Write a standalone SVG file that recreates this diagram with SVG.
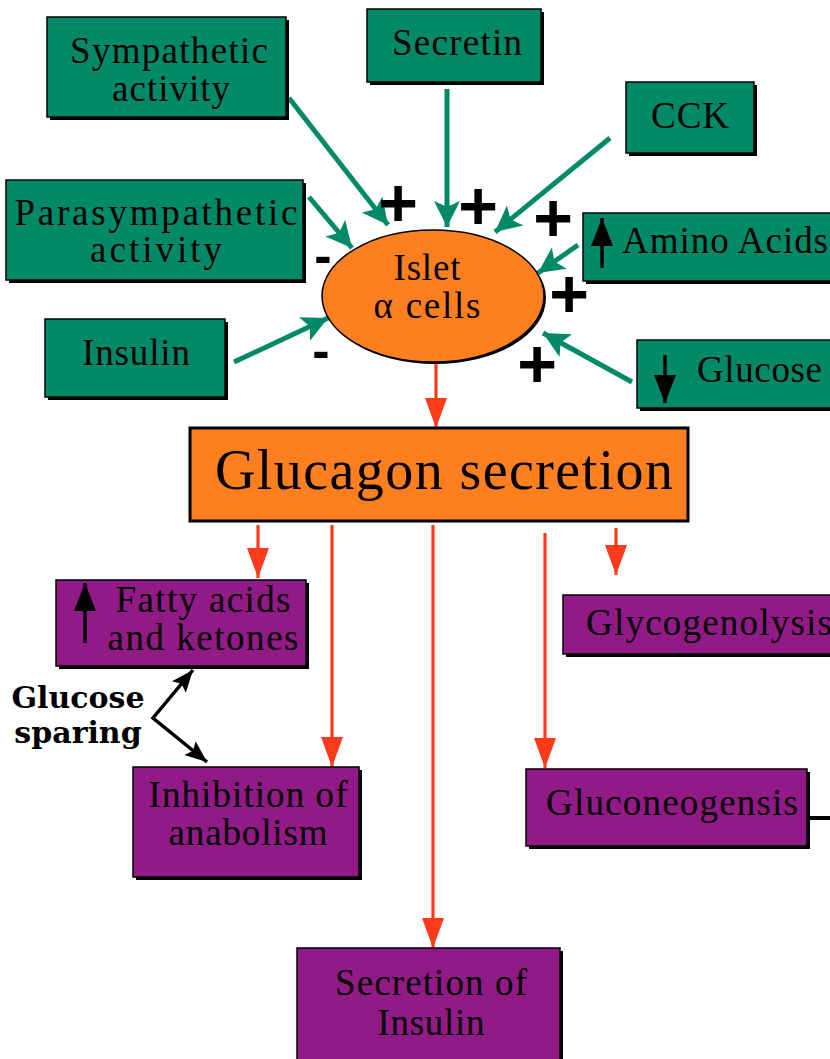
<svg xmlns="http://www.w3.org/2000/svg" width="830" height="1059" viewBox="0 0 830 1059">
<defs>
<style>
.g{fill:#028a68;stroke:#000;stroke-width:1.5}
.p{fill:#921a86;stroke:#000;stroke-width:1.5}
.sh{fill:#000}
.t{font-family:"Liberation Serif","Times New Roman",serif;font-size:37px;fill:#000;text-anchor:middle}
.gl{stroke:#028a68;stroke-width:5;fill:none;marker-end:url(#gh)}
.rl{stroke:#ff3a1a;stroke-width:3.2;fill:none;marker-end:url(#rh)}
.sign{font-family:"Liberation Sans",Arial,sans-serif;font-weight:bold;fill:#000;text-anchor:middle}
.gs{font-family:"DejaVu Serif",serif;font-weight:bold;font-size:30px;fill:#000;text-anchor:middle}
</style>
<marker id="gh" markerUnits="userSpaceOnUse" markerWidth="28" markerHeight="28" refX="26" refY="14" orient="auto"><path d="M0,1 L26,14 L0,27 L6,14 Z" fill="#028a68"/></marker>
<marker id="rh" markerUnits="userSpaceOnUse" markerWidth="32" markerHeight="24" refX="30" refY="12" orient="auto"><path d="M0,1 L30,12 L0,23 Z" fill="#ff3a1a"/></marker>
<marker id="bh" markerUnits="userSpaceOnUse" markerWidth="24" markerHeight="20" refX="22" refY="10" orient="auto-start-reverse"><path d="M0,1 L22,10 L0,19 L4,10 Z" fill="#000"/></marker>
<marker id="bu" markerUnits="userSpaceOnUse" markerWidth="30" markerHeight="24" refX="28" refY="12" orient="auto"><path d="M0,1 L28,12 L0,23 Z" fill="#000"/></marker>
</defs>
<rect width="830" height="1059" fill="#fff"/>

<g id="connectors">
<line class="gl" x1="289" y1="98" x2="388" y2="225"/>
<line class="gl" x1="447" y1="89" x2="447" y2="227"/>
<line class="gl" x1="610" y1="138" x2="495" y2="232"/>
<line class="gl" x1="309" y1="197" x2="352" y2="248"/>
<line class="gl" x1="234" y1="362" x2="328" y2="318"/>
<line class="gl" x1="578" y1="245" x2="538" y2="273"/>
<line class="gl" x1="632" y1="382" x2="543" y2="333"/>
<line class="rl" x1="436" y1="363" x2="436" y2="428"/>
<line class="rl" x1="258" y1="525" x2="258" y2="578"/>
<line class="rl" x1="332" y1="525" x2="332" y2="767"/>
<line class="rl" x1="433" y1="525" x2="433" y2="948"/>
<line class="rl" x1="545" y1="533" x2="545" y2="768"/>
<line class="rl" x1="616" y1="528" x2="616" y2="575"/>
<polyline points="193,670 153,718 207,762" fill="none" stroke="#000" stroke-width="3.5" marker-start="url(#bh)" marker-end="url(#bh)"/>
<line x1="810" y1="818" x2="830" y2="818" stroke="#000" stroke-width="4"/>
</g>

<g id="signs">
<text class="sign" x="398" y="226" font-size="68">+</text>
<text class="sign" x="478" y="229" font-size="68">+</text>
<text class="sign" x="553" y="241" font-size="68">+</text>
<text class="sign" x="569" y="317" font-size="68">+</text>
<text class="sign" x="537" y="387" font-size="68">+</text>
<text class="sign" x="323" y="273" font-size="52">-</text>
<text class="sign" x="321" y="368" font-size="52">-</text>
</g>

<g id="sympathetic">
<rect class="sh" x="50" y="20" width="239" height="100"/>
<rect class="g" x="47" y="17" width="239" height="100"/>
<text class="t" x="169" y="63" textLength="198">Sympathetic</text>
<text class="t" x="171" y="101" textLength="118">activity</text>
</g>
<g id="secretin">
<rect class="sh" x="370" y="12" width="174" height="73"/>
<rect class="g" x="367" y="9" width="174" height="73"/>
<text class="t" x="457" y="55" textLength="130">Secretin</text>
</g>
<g id="cck">
<rect class="sh" x="629" y="85" width="128" height="71"/>
<rect class="g" x="626" y="82" width="128" height="71"/>
<text class="t" x="690" y="128" textLength="78">CCK</text>
</g>
<g id="parasympathetic">
<rect class="sh" x="9" y="183" width="297" height="100"/>
<rect class="g" x="6" y="180" width="297" height="100"/>
<text class="t" x="156" y="225" textLength="283">Parasympathetic</text>
<text class="t" x="156" y="262" textLength="132">activity</text>
</g>
<g id="insulin">
<rect class="sh" x="48" y="322" width="180" height="78"/>
<rect class="g" x="45" y="319" width="180" height="78"/>
<text class="t" x="136" y="365" textLength="108">Insulin</text>
</g>
<g id="amino-acids">
<rect class="sh" x="586" y="216" width="260" height="68"/>
<rect class="g" x="583" y="213" width="260" height="68"/>
<line x1="602" y1="268" x2="602" y2="218" stroke="#000" stroke-width="3.5" marker-end="url(#bu)"/>
<text class="t" x="622" y="253" style="text-anchor:start" textLength="206">Amino Acids</text>
</g>
<g id="glucose">
<rect class="sh" x="640" y="343" width="210" height="68"/>
<rect class="g" x="637" y="340" width="210" height="68"/>
<line x1="665" y1="355" x2="665" y2="403" stroke="#000" stroke-width="3.5" marker-end="url(#bu)"/>
<text class="t" x="697" y="382" style="text-anchor:start" textLength="125">Glucose</text>
</g>
<g id="islet">
<ellipse cx="435" cy="298" rx="111" ry="66" fill="#000"/>
<ellipse cx="433" cy="296" rx="111" ry="66" fill="#fd7f20" stroke="#000" stroke-width="1.5"/>
<text class="t" x="427" y="280" textLength="67">Islet</text>
<text class="t" x="427" y="318" textLength="107">α cells</text>
</g>
<g id="glucagon-secretion">
<rect x="190" y="428" width="498" height="93" fill="#fd7f20" stroke="#000" stroke-width="3"/>
<text x="444" y="489" font-family="Liberation Serif,Times New Roman,serif" font-size="56" text-anchor="middle" textLength="458">Glucagon secretion</text>
</g>
<g id="fatty-acids">
<rect class="sh" x="59" y="583" width="250" height="86"/>
<rect class="p" x="56" y="580" width="250" height="86"/>
<line x1="85" y1="643" x2="85" y2="583" stroke="#000" stroke-width="3.5" marker-end="url(#bu)"/>
<text class="t" x="203" y="612" textLength="175">Fatty acids</text>
<text class="t" x="203" y="650" textLength="191">and ketones</text>
</g>
<g id="glycogenolysis">
<rect class="sh" x="566" y="598" width="280" height="59"/>
<rect class="p" x="563" y="595" width="280" height="59"/>
<text class="t" x="586" y="635" style="text-anchor:start" textLength="246">Glycogenolysis</text>
</g>
<g id="glucose-sparing">
<text class="gs" x="78" y="708">Glucose</text>
<text class="gs" x="78" y="743">sparing</text>
</g>
<g id="inhibition">
<rect class="sh" x="136" y="770" width="226" height="110"/>
<rect class="p" x="133" y="767" width="226" height="110"/>
<text class="t" x="248" y="807" textLength="199">Inhibition of</text>
<text class="t" x="248" y="845" textLength="159">anabolism</text>
</g>
<g id="gluconeogensis">
<rect class="sh" x="529" y="772" width="281" height="77"/>
<rect class="p" x="526" y="769" width="281" height="77"/>
<text class="t" x="672" y="815" textLength="252">Gluconeogensis</text>
</g>
<g id="secretion-of-insulin">
<rect class="sh" x="300" y="951" width="263" height="120"/>
<rect class="p" x="297" y="948" width="263" height="120"/>
<text class="t" x="431" y="995" textLength="192">Secretion of</text>
<text class="t" x="431" y="1035" textLength="107">Insulin</text>
</g>
</svg>
